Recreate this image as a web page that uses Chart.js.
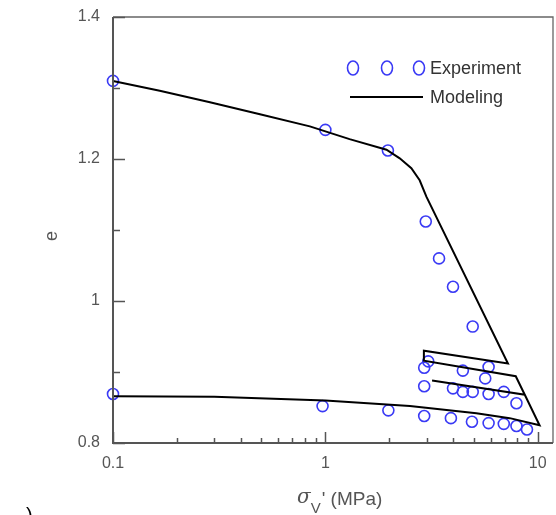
<!DOCTYPE html>
<html>
<head>
<meta charset="utf-8">
<script src="https://cdn.jsdelivr.net/npm/chart.js@4/dist/chart.umd.min.js"></script>
<style>
  html, body { margin: 0; padding: 0; background: #fff; }
  #wrap { width: 556px; height: 515px; }
</style>
</head>
<body>
<div id="wrap"><canvas id="grafico" width="556" height="515"></canvas></div>
<script>
// dados experimentais (tensão vertical efetiva em MPa, índice de vazios e)
const expSigma = [0.1, 1, 1.97, 2.97, 3.43, 3.99, 4.94,
  3.05, 2.92, 4.44, 5.87, 5.66,
  2.92, 3.99, 4.44, 4.94, 5.87, 6.92, 7.94,
  2.92, 3.9, 4.9, 5.87, 6.92, 7.94, 8.9,
  0.1, 0.97, 1.98];
const expE = [1.31, 1.241, 1.212, 1.112, 1.06, 1.02, 0.964,
  0.915, 0.906, 0.902, 0.907, 0.891,
  0.88, 0.877, 0.872, 0.872, 0.869, 0.872, 0.856,
  0.838, 0.835, 0.83, 0.828, 0.827, 0.824, 0.819,
  0.869, 0.852, 0.846];

// curva do modelo (na ordem do caminho de carga / descarga)
const modSigma = [0.1, 0.166, 0.286, 0.492, 0.845, 1.3, 1.94, 2.24, 2.54, 2.78, 2.99, 7.24,
  2.91, 2.91, 7.88, 8.69, 3.18, 8.69, 10.2,
  7.38, 5.14, 2.5, 1, 0.3, 0.1];
const modE = [1.31, 1.296, 1.28, 1.263, 1.246, 1.228, 1.213, 1.201, 1.187, 1.17, 1.147, 0.912,
  0.93, 0.916, 0.894, 0.868, 0.888, 0.868, 0.825,
  0.835, 0.842, 0.852, 0.86, 0.865, 0.866];

// marcas dos eixos
const xMajor = [0.1, 1, 10];
const xMinor = [0.2, 0.3, 0.4, 0.5, 0.6, 0.7, 0.8, 0.9, 2, 3, 4, 5, 6, 7, 8, 9];
const yMajor = [0.8, 1, 1.2, 1.4];
const yMinor = [0.9, 1.1, 1.3];

const AZUL = '#3a3af5';
const CINZA = '#555';
const FONTE = 'Arial, "Liberation Sans", sans-serif';

function ehMaior(lista, v) {
  return lista.some(m => Math.abs(m - v) < 1e-9);
}

// zera o padding extra que o Chart.js reserva para os rótulos
function semPadding(scale) {
  scale.paddingTop = 0;
  scale.paddingBottom = 0;
  scale.paddingLeft = 0;
  scale.paddingRight = 0;
}

// plugin para moldura, marcas internas, títulos e legenda
const extras = {
  id: 'extras',
  afterDraw(chart) {
    const ctx = chart.ctx;
    const a = chart.chartArea;
    const sx = chart.scales.x;
    const sy = chart.scales.y;
    ctx.save();

    // moldura
    ctx.strokeStyle = '#666';
    ctx.lineWidth = 1.3;
    ctx.beginPath();
    ctx.moveTo(a.left, a.top);
    ctx.lineTo(a.right, a.top);
    ctx.lineTo(a.right, a.bottom);
    ctx.stroke();
    ctx.strokeStyle = CINZA;
    ctx.lineWidth = 2;
    ctx.beginPath();
    ctx.moveTo(a.left, a.top);
    ctx.lineTo(a.left, a.bottom);
    ctx.lineTo(a.right, a.bottom);
    ctx.stroke();

    // marcas para dentro
    ctx.lineWidth = 1.5;
    ctx.beginPath();
    xMajor.concat(xMinor).forEach(v => {
      const px = Math.round(sx.getPixelForValue(v)) + 0.5;
      const len = ehMaior(xMajor, v) ? 11 : 5;
      ctx.moveTo(px, a.bottom);
      ctx.lineTo(px, a.bottom - len);
    });
    yMajor.concat(yMinor).forEach(v => {
      const py = Math.round(sy.getPixelForValue(v)) + 0.5;
      const len = ehMaior(yMajor, v) ? 12 : 7;
      ctx.moveTo(a.left, py);
      ctx.lineTo(a.left + len, py);
    });
    ctx.stroke();

    // título do eixo x: σv' (MPa)
    ctx.fillStyle = CINZA;
    ctx.textBaseline = 'middle';
    ctx.textAlign = 'left';
    let x = 297;
    ctx.font = 'italic 20px "DejaVu Serif", serif';
    ctx.fillText('σ', x, 498);
    x += ctx.measureText('σ').width;
    ctx.font = '15px ' + FONTE;
    ctx.fillText('V', x, 509);
    x += ctx.measureText('V').width + 1;
    ctx.font = '19px ' + FONTE;
    ctx.fillText("' (MPa)", x, 500);

    // título do eixo y
    ctx.save();
    ctx.translate(52, 236);
    ctx.rotate(-Math.PI / 2);
    ctx.textAlign = 'center';
    ctx.font = '18px ' + FONTE;
    ctx.fillText('e', 0, 0);
    ctx.restore();

    // legenda
    ctx.strokeStyle = AZUL;
    ctx.lineWidth = 1.6;
    [353, 387, 419].forEach(cx => {
      ctx.beginPath();
      ctx.ellipse(cx, 68, 5.5, 7, 0, 0, Math.PI * 2);
      ctx.stroke();
    });
    ctx.strokeStyle = '#000';
    ctx.lineWidth = 2;
    ctx.beginPath();
    ctx.moveTo(350, 97);
    ctx.lineTo(423, 97);
    ctx.stroke();
    ctx.fillStyle = '#333';
    ctx.font = '18px ' + FONTE;
    ctx.textAlign = 'left';
    ctx.fillText('Experiment', 430, 69);
    ctx.fillText('Modeling', 430, 98);

    // resto do rótulo "(a)" cortado no canto
    ctx.fillStyle = '#000';
    ctx.textBaseline = 'top';
    ctx.font = '20px ' + FONTE;
    ctx.fillText(')', 26, 506);

    ctx.restore();
  }
};

function criarGrafico() {
  const ctx = document.getElementById('grafico').getContext('2d');

  const experimento = expSigma.map((s, i) => ({ x: s, y: expE[i] }));
  const modelo = modSigma.map((s, i) => ({ x: s, y: modE[i] }));

  new Chart(ctx, {
    type: 'scatter',
    data: {
      datasets: [
        {
          label: 'Modeling',
          data: modelo,
          showLine: true,
          borderColor: '#000',
          borderWidth: 2,
          pointRadius: 0,
          tension: 0,
          fill: false,
          clip: false
        },
        {
          label: 'Experiment',
          data: experimento,
          pointStyle: 'circle',
          pointRadius: 5.5,
          borderColor: AZUL,
          backgroundColor: 'rgba(0,0,0,0)',
          borderWidth: 1.6,
          clip: false
        }
      ]
    },
    options: {
      responsive: false,
      animation: false,
      layout: { autoPadding: false, padding: { top: 17, right: 3, left: 0, bottom: 0 } },
      plugins: {
        legend: { display: false },
        tooltip: { enabled: false }
      },
      scales: {
        x: {
          type: 'logarithmic',
          min: 0.1,
          max: 11.8,
          grid: { display: false, drawTicks: false },
          border: { display: false },
          afterBuildTicks: scale => {
            scale.ticks = xMajor.concat(xMinor).sort((p, q) => p - q).map(v => ({ value: v }));
          },
          afterFit: scale => { scale.height = 72; semPadding(scale); },
          ticks: {
            autoSkip: false,
            maxRotation: 0,
            padding: 11,
            color: CINZA,
            font: { family: FONTE, size: 16 },
            callback: v => ehMaior(xMajor, v) ? String(v) : ''
          }
        },
        y: {
          type: 'linear',
          min: 0.8,
          max: 1.4,
          grid: { display: false, drawTicks: false },
          border: { display: false },
          afterBuildTicks: scale => {
            scale.ticks = yMajor.concat(yMinor).sort((p, q) => p - q).map(v => ({ value: v }));
          },
          afterFit: scale => { scale.width = 113; semPadding(scale); },
          ticks: {
            autoSkip: false,
            padding: 13,
            color: CINZA,
            font: { family: FONTE, size: 16 },
            callback: v => ehMaior(yMajor, v) ? String(v) : ''
          }
        }
      }
    },
    plugins: [extras]
  });
}

window.addEventListener('DOMContentLoaded', criarGrafico);
</script>
</body>
</html>
